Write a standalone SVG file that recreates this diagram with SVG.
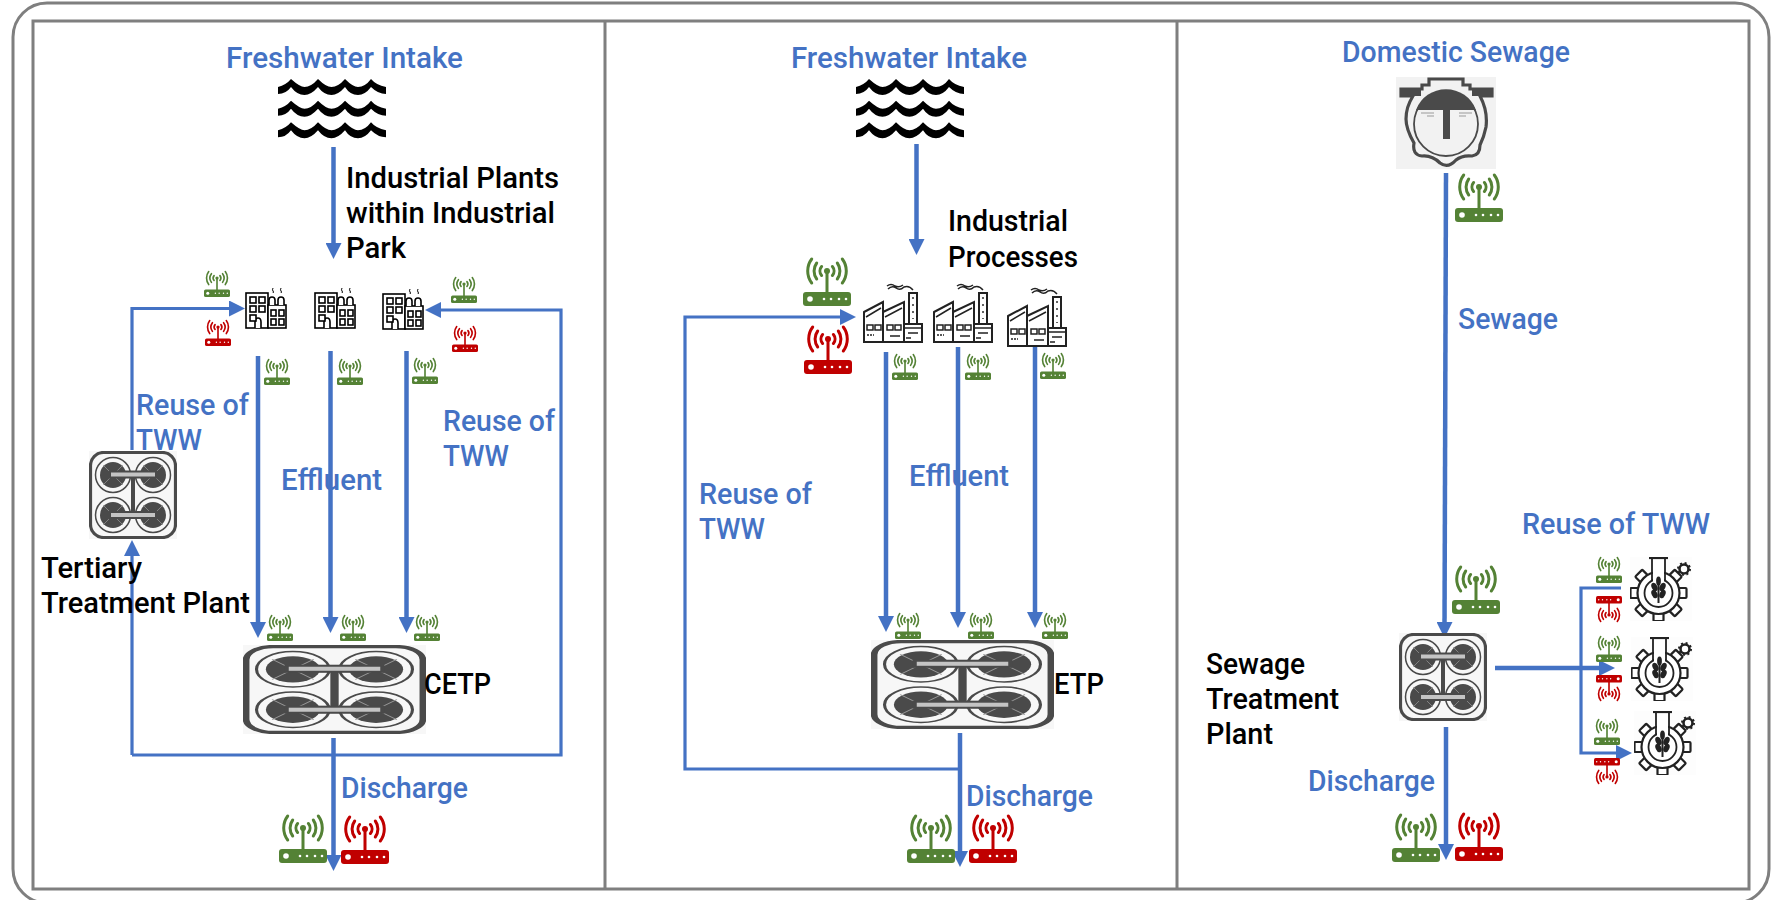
<svg xmlns="http://www.w3.org/2000/svg" xmlns:xlink="http://www.w3.org/1999/xlink" width="1780" height="900" viewBox="0 0 1780 900">
<style>
text{font-family:Roboto,"Liberation Sans",sans-serif;font-size:29px;font-weight:500}
.b{fill:#4472c4}.k{fill:#000}
.c{fill:none;stroke:#4472c4;stroke-width:4.500}
.c3{fill:none;stroke:#4472c4;stroke-width:3.200}
.f{fill:none;stroke:#7f7f7f;stroke-width:3}
.g{color:#548235}.r{color:#c00000}
</style>
<defs>
<marker id="ah" markerUnits="userSpaceOnUse" markerWidth="16" markerHeight="16" viewBox="0 0 16 16" refX="8" refY="8" orient="auto"><path d="M0,0L16,8L0,16Z" fill="#4472c4"/></marker>
<symbol id="router" viewBox="0 0 48 48" overflow="visible"><g fill="none" stroke="currentColor" stroke-width="3" stroke-linecap="round"><path d="M8.7,1A20,20 0 0 0 8.700,25M13.700,5A13.500,13.500 0 0 0 13.700,21M18.600,8.500A7,7 0 0 0 18.600,17.500M39.300,1A20,20 0 0 1 39.300,25M34.300,5A13.500,13.500 0 0 1 34.300,21M29.400,8.500A7,7 0 0 1 29.400,17.500M24,13V35"/></g><circle cx="24" cy="13" r="3" fill="currentColor"/><rect y="34" width="48" height="14" rx="3" fill="currentColor"/><g fill="#fff"><circle cx="7" cy="41" r="2.800"/><circle cx="21" cy="41" r="1.300"/><circle cx="28" cy="41" r="1.300"/><circle cx="36" cy="41" r="1.300"/><circle cx="43" cy="41" r="1.300"/></g></symbol>
<symbol id="waves" viewBox="0 0 108 60"><path id="w1" d="M0,8Q8,6 13,0Q22,8 26.500,8Q33,8 40,0Q48,8 53.500,8Q60,8 67,0Q75,8 80,8Q87,8 93,0Q98,6 108,8L108,15Q100,15 93,8Q87,16 80,16Q72,16 67,8Q60,16 53.500,16Q46,16 40,8Q33,16 26.500,16Q19,16 13,8Q8,15 0,15Z"/><use href="#w1" y="21.700"/><use href="#w1" y="43.300"/></symbol>
<symbol id="plant" viewBox="0 0 88 88" preserveAspectRatio="none"><rect width="88" height="88" fill="#f7f7f7"/><rect x="1.500" y="1.500" width="85" height="85" rx="13" fill="#f7f7f7" stroke="#4a4a4a" stroke-width="3.200"/><g fill="#4a4a4a"><circle cx="24" cy="24" r="13"/><circle cx="64" cy="24" r="13"/><circle cx="24" cy="64" r="13"/><circle cx="64" cy="64" r="13"/></g><g fill="none" stroke="#4a4a4a" stroke-width="1.500"><circle cx="24" cy="24" r="17.500"/><circle cx="64" cy="24" r="17.500"/><circle cx="24" cy="64" r="17.500"/><circle cx="64" cy="64" r="17.500"/></g><path d="M14,14L34,34M34,14L14,34M54,14L74,34M74,14L54,34M14,54L34,74M34,54L14,74M54,54L74,74M74,54L54,74" stroke="#9a9a9a" stroke-width=".7" fill="none"/><rect x="42" y="24" width="4" height="40" fill="#4a4a4a"/><g fill="#c4c4c4" stroke="#4a4a4a" stroke-width="2"><rect x="21" y="20.500" width="46" height="6"/><rect x="21" y="61" width="46" height="6"/></g></symbol>
<symbol id="sewer" viewBox="0 0 100 92"><rect width="100" height="92" fill="#f2f2f2"/><path d="M5,12H26V8H33V2H67V8H74V12H96V19H84Q92,34 90,50Q88,60 84,68Q84,78 76,79Q66,78 60,83Q52,92 44,86Q36,78 26,79Q16,78 18,66Q10,52 10,42Q10,30 17,19H5Z" fill="none" stroke="#4a4a4a" stroke-width="3.200"/><rect x="5" y="12" width="20" height="7" fill="#4a4a4a"/><rect x="76" y="12" width="20" height="7" fill="#4a4a4a"/><circle cx="50" cy="47" r="32" fill="#f2f2f2" stroke="#4a4a4a" stroke-width="1.800"/><path d="M20,33A32,32 0 0 1 80,33Z" fill="#4a4a4a"/><rect x="47" y="30" width="7" height="32" fill="#4a4a4a"/><path d="M25,36H38M31,39H38M63,36H76M63,39H70" stroke="#9a9a9a" fill="none"/></symbol>
<symbol id="tower" viewBox="0 0 42 42"><g fill="#fff" stroke="#000" stroke-width="1.600"><rect x="1" y="6" width="22" height="35"/><rect x="23" y="18" width="18" height="23"/><path d="M24,18V13Q24,10 27,10Q30,10 30,13V18M33,18V13Q33,10 36,10Q39,10 39,13V18"/><path d="M10,41V35Q10,31 13,31Q16,31 16,35V41"/><rect x="5" y="10" width="6" height="6"/><rect x="14" y="10" width="6" height="6"/><rect x="5" y="19" width="6" height="6"/><rect x="14" y="19" width="6" height="6"/><rect x="5" y="28" width="6" height="6"/><rect x="26" y="23" width="5" height="6"/><rect x="34" y="23" width="5" height="6"/><rect x="26" y="32" width="5" height="6"/><rect x="34" y="32" width="5" height="6"/></g><path d="M28,1Q27,3 28,4Q29,5 28,6M36,1Q35,3 36,4Q37,5 36,6" fill="none" stroke="#000" stroke-width="1"/></symbol>
<symbol id="factory" viewBox="0 0 60 60"><g fill="#fff" stroke="#222" stroke-width="2"><path d="M1,29L20,19V59H1Z"/><path d="M20,29L41,19V59H20Z"/><path d="M46,10H54V41H46Z"/><rect x="41" y="41" width="18" height="18"/></g><g fill="none" stroke="#222" stroke-width="1.500"><path d="M3,34L18,25M22,34L39,25M41,45H59M45,50H55M43,55H48M27,53H37"/><path d="M24,42H30V47H24ZM32,42H38V47H32ZM4,42H10V47H4ZM12,42H18V47H12Z"/><path d="M25,6Q29,2 33,5Q37,8 41,4Q46,2 50,7M24,3Q28,0 32,3Q36,5 40,2"/></g><path d="M4,52H11" stroke="#222" stroke-dasharray="2 1" stroke-width="1.400"/><path d="M50,14V36" stroke="#222" stroke-dasharray="2 5" stroke-width="1.400"/></symbol>
<symbol id="gear" viewBox="0 0 62 64"><rect width="62" height="64" fill="#fdfdfd"/><g id="gt" fill="#fff" stroke="#222" stroke-width="2.200"><rect x="20" y="-5" width="8" height="10" rx="1" transform="translate(28.500,36) rotate(0)"/><rect x="20" y="-5" width="8" height="10" rx="1" transform="translate(28.500,36) rotate(45)"/><rect x="20" y="-5" width="8" height="10" rx="1" transform="translate(28.500,36) rotate(90)"/><rect x="20" y="-5" width="8" height="10" rx="1" transform="translate(28.500,36) rotate(135)"/><rect x="20" y="-5" width="8" height="10" rx="1" transform="translate(28.500,36) rotate(180)"/><rect x="20" y="-5" width="8" height="10" rx="1" transform="translate(28.500,36) rotate(225)"/><rect x="20" y="-5" width="8" height="10" rx="1" transform="translate(28.500,36) rotate(-45)"/></g><circle cx="28.500" cy="36" r="21" fill="#fff" stroke="#222" stroke-width="2.200"/><circle cx="28.500" cy="36" r="14" fill="#fff" stroke="#222" stroke-width="1.800"/><rect x="23" y="3" width="11" height="24" fill="#fff"/><path d="M22,2V24M35,2V24" stroke="#222" stroke-width="1.800" fill="none"/><path d="M19,1H38" stroke="#222" stroke-width="2.200"/><g fill="#222"><rect x="27.500" y="22" width="2" height="24"/><ellipse cx="28.500" cy="24" rx="2.400" ry="4.500"/><ellipse cx="24.500" cy="30" rx="2.800" ry="4.500" transform="rotate(-25 24.500 30)"/><ellipse cx="32.500" cy="30" rx="2.800" ry="4.500" transform="rotate(25 32.500 30)"/><ellipse cx="24.500" cy="37" rx="2.800" ry="4.500" transform="rotate(-25 24.500 37)"/><ellipse cx="32.500" cy="37" rx="2.800" ry="4.500" transform="rotate(25 32.500 37)"/></g><circle cx="54" cy="12" r="4.500" fill="#fff" stroke="#222" stroke-width="2.600"/><circle cx="54" cy="12" r="6" fill="none" stroke="#222" stroke-width="2" stroke-dasharray="2 2.700"/></symbol>
</defs>
<rect id="background" width="1780" height="900" fill="#fff"/>
<g id="frame">
<rect class="f" x="13" y="3" width="1756" height="900" rx="34"/>
<rect class="f" x="33" y="21" width="1716" height="868"/>
<path class="f" d="M605,21V889M1177,21V889"/>
</g>
<g id="connectors">
<path class="c" d="M333.500,147V251" marker-end="url(#ah)"/>
<path class="c3" d="M132,450V308.500H237" marker-end="url(#ah)"/>
<path class="c3" d="M132,755V548" marker-end="url(#ah)"/>
<path class="c3" d="M132,755H561V310H433" marker-end="url(#ah)"/>
<path class="c" d="M258,356V630" marker-end="url(#ah)"/>
<path class="c" d="M330.500,351V625" marker-end="url(#ah)"/>
<path class="c" d="M406.500,351V625" marker-end="url(#ah)"/>
<path class="c" d="M333.500,738V863" marker-end="url(#ah)"/>
<path class="c" d="M916.500,144V247" marker-end="url(#ah)"/>
<path class="c3" d="M960,769H685V317H848" marker-end="url(#ah)"/>
<path class="c" d="M886,352V624" marker-end="url(#ah)"/>
<path class="c" d="M958,347V620" marker-end="url(#ah)"/>
<path class="c" d="M1035,347V620" marker-end="url(#ah)"/>
<path class="c" d="M960,733V859" marker-end="url(#ah)"/>
<path class="c" d="M1446,173L1444.500,630" marker-end="url(#ah)"/>
<path class="c" d="M1446,727V852" marker-end="url(#ah)"/>
<path class="c" d="M1495,668H1607" marker-end="url(#ah)"/>
<path class="c3" d="M1621,588H1581V753H1624" marker-end="url(#ah)"/>
</g>
<g id="p1-intake"><text class="b" x="226" y="68" textLength="237" lengthAdjust="spacingAndGlyphs">Freshwater Intake</text><use href="#waves" x="278" y="79" width="108" height="60"/></g>
<g id="p1-plants"><text class="k" x="346" y="188" textLength="213" lengthAdjust="spacingAndGlyphs">Industrial Plants</text><text class="k" x="346" y="223" textLength="209" lengthAdjust="spacingAndGlyphs">within Industrial</text><text class="k" x="346" y="258" textLength="60" lengthAdjust="spacingAndGlyphs">Park</text><use href="#tower" x="245" y="287" width="42" height="42"/><use href="#tower" x="314" y="287" width="42" height="42"/><use href="#tower" x="382" y="288" width="42" height="42"/></g>
<g id="p1-sensors">
<use class="g" href="#router" x="204" y="271" width="26" height="26"/><use class="r" href="#router" x="205" y="320" width="26" height="26"/>
<use class="g" href="#router" x="451" y="277" width="26" height="26"/><use class="r" href="#router" x="452" y="326" width="26" height="26"/>
<use class="g" href="#router" x="264" y="359" width="26" height="26"/><use class="g" href="#router" x="337" y="359" width="26" height="26"/><use class="g" href="#router" x="412" y="358" width="26" height="26"/>
<use class="g" href="#router" x="267" y="615" width="26" height="26"/><use class="g" href="#router" x="340" y="615" width="26" height="26"/><use class="g" href="#router" x="414" y="615" width="26" height="26"/>
<use class="g" href="#router" x="279" y="815" width="48" height="48"/><use class="r" href="#router" x="341" y="816" width="48" height="48"/>
</g>
<g id="p1-tertiary"><use href="#plant" x="89" y="451" width="88" height="88"/><text class="k" x="41" y="578" textLength="101" lengthAdjust="spacingAndGlyphs">Tertiary</text><text class="k" x="41" y="613" textLength="209" lengthAdjust="spacingAndGlyphs">Treatment Plant</text></g>
<g id="p1-cetp"><use href="#plant" x="243" y="645" width="183" height="89"/><text class="k" x="424" y="694" textLength="67" lengthAdjust="spacingAndGlyphs">CETP</text></g>
<g id="p1-labels"><text class="b" x="136" y="415" textLength="113" lengthAdjust="spacingAndGlyphs">Reuse of</text><text class="b" x="136" y="450" textLength="66" lengthAdjust="spacingAndGlyphs">TWW</text><text class="b" x="443" y="431" textLength="112" lengthAdjust="spacingAndGlyphs">Reuse of</text><text class="b" x="443" y="466" textLength="66" lengthAdjust="spacingAndGlyphs">TWW</text><text class="b" x="281" y="490" textLength="101" lengthAdjust="spacingAndGlyphs">Effluent</text><text class="b" x="341" y="798" textLength="127" lengthAdjust="spacingAndGlyphs">Discharge</text></g>
<g id="p2-intake"><text class="b" x="791" y="68" textLength="236" lengthAdjust="spacingAndGlyphs">Freshwater Intake</text><use href="#waves" x="856" y="79" width="108" height="60"/></g>
<g id="p2-processes"><text class="k" x="948" y="231" textLength="120" lengthAdjust="spacingAndGlyphs">Industrial</text><text class="k" x="948" y="267" textLength="130" lengthAdjust="spacingAndGlyphs">Processes</text><use href="#factory" x="863" y="283" width="60" height="60"/><use href="#factory" x="933" y="283" width="60" height="60"/><use href="#factory" x="1007" y="287" width="60" height="60"/></g>
<g id="p2-sensors">
<use class="g" href="#router" x="803" y="258" width="48" height="48"/><use class="r" href="#router" x="804" y="326" width="48" height="48"/>
<use class="g" href="#router" x="892" y="354" width="26" height="26"/><use class="g" href="#router" x="965" y="354" width="26" height="26"/><use class="g" href="#router" x="1040" y="353" width="26" height="26"/>
<use class="g" href="#router" x="895" y="613" width="26" height="26"/><use class="g" href="#router" x="968" y="613" width="26" height="26"/><use class="g" href="#router" x="1042" y="613" width="26" height="26"/>
<use class="g" href="#router" x="907" y="815" width="48" height="48"/><use class="r" href="#router" x="969" y="815" width="48" height="48"/>
</g>
<g id="p2-etp"><use href="#plant" x="871" y="640" width="183" height="89"/><text class="k" x="1054" y="694" textLength="50" lengthAdjust="spacingAndGlyphs">ETP</text></g>
<g id="p2-labels"><text class="b" x="699" y="504" textLength="113" lengthAdjust="spacingAndGlyphs">Reuse of</text><text class="b" x="699" y="539" textLength="66" lengthAdjust="spacingAndGlyphs">TWW</text><text class="b" x="909" y="486" textLength="100" lengthAdjust="spacingAndGlyphs">Effluent</text><text class="b" x="966" y="806" textLength="127" lengthAdjust="spacingAndGlyphs">Discharge</text></g>
<g id="p3-sewage"><text class="b" x="1342" y="62" textLength="228" lengthAdjust="spacingAndGlyphs">Domestic Sewage</text><use href="#sewer" x="1396" y="77" width="100" height="92"/><use class="g" href="#router" x="1455" y="174" width="48" height="48"/><text class="b" x="1458" y="329" textLength="100" lengthAdjust="spacingAndGlyphs">Sewage</text></g>
<g id="p3-stp"><use href="#plant" x="1399" y="633" width="88" height="88"/><use class="g" href="#router" x="1452" y="566" width="48" height="48"/><text class="k" x="1206" y="674" textLength="99" lengthAdjust="spacingAndGlyphs">Sewage</text><text class="k" x="1206" y="709" textLength="133" lengthAdjust="spacingAndGlyphs">Treatment</text><text class="k" x="1206" y="744" textLength="67" lengthAdjust="spacingAndGlyphs">Plant</text></g>
<g id="p3-discharge"><text class="b" x="1308" y="791" textLength="127" lengthAdjust="spacingAndGlyphs">Discharge</text><use class="g" href="#router" x="1392" y="814" width="48" height="48"/><use class="r" href="#router" x="1455" y="813" width="48" height="48"/></g>
<g id="p3-reuse"><text class="b" x="1522" y="534" textLength="188" lengthAdjust="spacingAndGlyphs">Reuse of TWW</text>
<use href="#gear" x="1630" y="557" width="62" height="64"/><use href="#gear" x="1631" y="637" width="62" height="64"/><use href="#gear" x="1634" y="711" width="62" height="64"/>
<use class="g" href="#router" x="1596" y="557" width="26" height="26"/><use class="r" href="#router" transform="rotate(180 1609 609)" x="1596" y="596" width="26" height="26"/>
<use class="g" href="#router" x="1596" y="636" width="26" height="26"/><use class="r" href="#router" transform="rotate(180 1609 688)" x="1596" y="675" width="26" height="26"/>
<use class="g" href="#router" x="1594" y="719" width="26" height="26"/><use class="r" href="#router" transform="rotate(180 1607 771)" x="1594" y="758" width="26" height="26"/>
</g>
</svg>
